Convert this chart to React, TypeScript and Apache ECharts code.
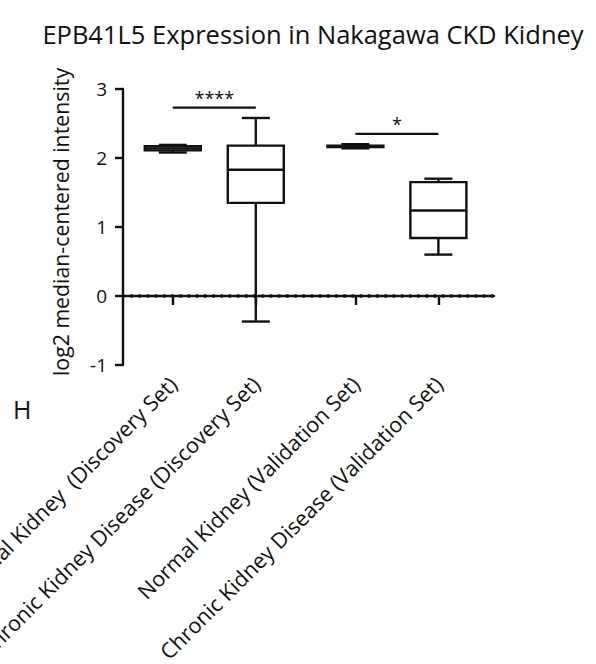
import React, { useEffect, useRef } from "react";
import * as echarts from "echarts";

const titleText = "EPB41L5 Expression in Nakagawa CKD Kidney";
const yAxisName = "log2 median-centered intensity";
const categories = [
  "Normal Kidney  (Discovery Set)",
  "Chronic Kidney Disease (Discovery Set)",
  "Normal Kidney (Validation Set)",
  "Chronic Kidney Disease (Validation Set)",
];
// x positions of the groups (gap between the two sets)
const positions = [0.6, 1.6, 2.8, 3.8];
// box statistics: [min, q1, median, q3, max]
const minValues = [2.08, -0.37, 2.14, 0.6];
const q1Values = [2.11, 1.35, 2.16, 0.84];
const medianValues = [2.14, 1.83, 2.17, 1.24];
const q3Values = [2.17, 2.18, 2.18, 1.65];
const maxValues = [2.19, 2.58, 2.2, 1.7];
// significance brackets: [fromIndex, toIndex, y, label]
const sigFrom = [0, 2];
const sigTo = [1, 3];
const sigY = [2.73, 2.35];
const sigLabels = ["****", "*"];
// dotted reference line at 0
const refLineA = [0, 4.7];
const refLineB = [4.88, 4.99];
const yTicks = { min: -1, max: 3, interval: 1 };
const xMax = 4.47;
const boxWidth = 0.675;

const FONT = "'Open Sans', 'Noto Sans', sans-serif";
const INK = "#111";

export default function App() {
  const ref = useRef<HTMLDivElement>(null);
  useEffect(() => {
    if (!ref.current) return;
    const chart = echarts.init(ref.current, null, { renderer: "svg" });
    const boxData = positions.map((p, i) => [
      p,
      minValues[i],
      q1Values[i],
      medianValues[i],
      q3Values[i],
      maxValues[i],
    ]);
    const sigData = sigFrom.map((f, i) => [positions[f], positions[sigTo[i]], sigY[i], i]);
    const dotStyle = { color: INK, width: 3.4, type: [0.6, 7.6], cap: "round" };
    const option: any = {
      animation: false,
      backgroundColor: "#fff",
      title: {
        text: titleText,
        left: 308,
        top: 16,
        textAlign: "center",
        textStyle: { fontFamily: FONT, fontSize: 25.5, fontWeight: "normal", color: INK },
      },
      graphic: [
        {
          type: "text",
          left: 13,
          top: 396,
          style: { text: "H", font: `25px ${FONT}`, fill: INK },
        },
      ],
      grid: {
        left: 123,
        right: 596 - 494,
        top: 89,
        bottom: 664 - 365,
        containLabel: false,
        outerBoundsMode: "none",
      },
      xAxis: {
        type: "value",
        min: 0,
        max: xMax,
        splitLine: { show: false },
        axisLine: { show: true, lineStyle: { color: INK, width: 2.4 } },
        axisTick: {
          show: true,
          customValues: positions,
          length: 9,
          lineStyle: { color: INK, width: 2.4 },
        },
        axisLabel: {
          show: true,
          customValues: positions,
          rotate: 45,
          margin: 15,
          fontFamily: FONT,
          fontSize: 21.5,
          color: INK,
          formatter: (v: number) => {
            const idx = positions.findIndex((p) => Math.abs(p - v) < 1e-6);
            return idx >= 0 ? categories[idx] : "";
          },
        },
      },
      yAxis: {
        type: "value",
        min: yTicks.min,
        max: yTicks.max,
        interval: yTicks.interval,
        name: yAxisName,
        nameLocation: "middle",
        nameGap: 52,
        nameRotate: 90,
        nameTextStyle: { fontFamily: FONT, fontSize: 21.3, color: INK, padding: [0, 0, 0, 10] },
        splitLine: { show: false },
        axisLine: { show: true, lineStyle: { color: INK, width: 2.4 } },
        axisTick: { show: true, length: 8, lineStyle: { color: INK, width: 2.4 } },
        axisLabel: { margin: 16, fontFamily: FONT, fontSize: 19, color: INK },
      },
      series: [
        {
          type: "line",
          data: refLineA.map((x) => [x, 0]),
          symbol: "none",
          clip: false,
          silent: true,
          lineStyle: dotStyle,
          z: 1,
        },
        {
          type: "line",
          data: refLineB.map((x) => [x, 0]),
          symbol: "none",
          clip: false,
          silent: true,
          lineStyle: dotStyle,
          z: 1,
        },
        {
          type: "custom",
          data: boxData,
          clip: false,
          z: 3,
          renderItem: (params: any, api: any) => {
            const x = api.value(0);
            const vals = [1, 2, 3, 4, 5].map((d) => api.coord([x, api.value(d)])[1]);
            const cx = api.coord([x, 0])[0];
            const w = api.size([boxWidth, 0])[0];
            const hw = w / 2;
            const cw = w / 4;
            const [yMin, yQ1, yMed, yQ3, yMax] = vals;
            const style = { stroke: INK, lineWidth: 2.4, fill: null };
            return {
              type: "group",
              children: [
                { type: "line", shape: { x1: cx, y1: yQ3, x2: cx, y2: yMax }, style },
                { type: "line", shape: { x1: cx, y1: yQ1, x2: cx, y2: yMin }, style },
                { type: "line", shape: { x1: cx - cw, y1: yMax, x2: cx + cw, y2: yMax }, style },
                { type: "line", shape: { x1: cx - cw, y1: yMin, x2: cx + cw, y2: yMin }, style },
                {
                  type: "rect",
                  shape: { x: cx - hw, y: yQ3, width: w, height: yQ1 - yQ3 },
                  style: { stroke: INK, lineWidth: 2.4, fill: "#fff" },
                },
                { type: "line", shape: { x1: cx - hw, y1: yMed, x2: cx + hw, y2: yMed }, style },
              ],
            };
          },
        },
        {
          type: "custom",
          data: sigData,
          clip: false,
          z: 3,
          renderItem: (params: any, api: any) => {
            const p1 = api.coord([api.value(0), api.value(2)]);
            const p2 = api.coord([api.value(1), api.value(2)]);
            const label = sigLabels[api.value(3)];
            return {
              type: "group",
              children: [
                {
                  type: "line",
                  shape: { x1: p1[0], y1: p1[1], x2: p2[0], y2: p2[1] },
                  style: { stroke: INK, lineWidth: 2.2 },
                },
                {
                  type: "text",
                  x: (p1[0] + p2[0]) / 2,
                  y: p1[1] - 1,
                  style: {
                    text: label,
                    font: `18px ${FONT}`,
                    fill: INK,
                    align: "center",
                    verticalAlign: "bottom",
                  },
                },
              ],
            };
          },
        },
      ],
    };
    chart.setOption(option);
    return () => chart.dispose();
  }, []);
  return (
    <div
      ref={ref}
      style={{ position: "fixed", left: 0, top: 0, width: 596, height: 664, background: "#fff" }}
    />
  );
}
